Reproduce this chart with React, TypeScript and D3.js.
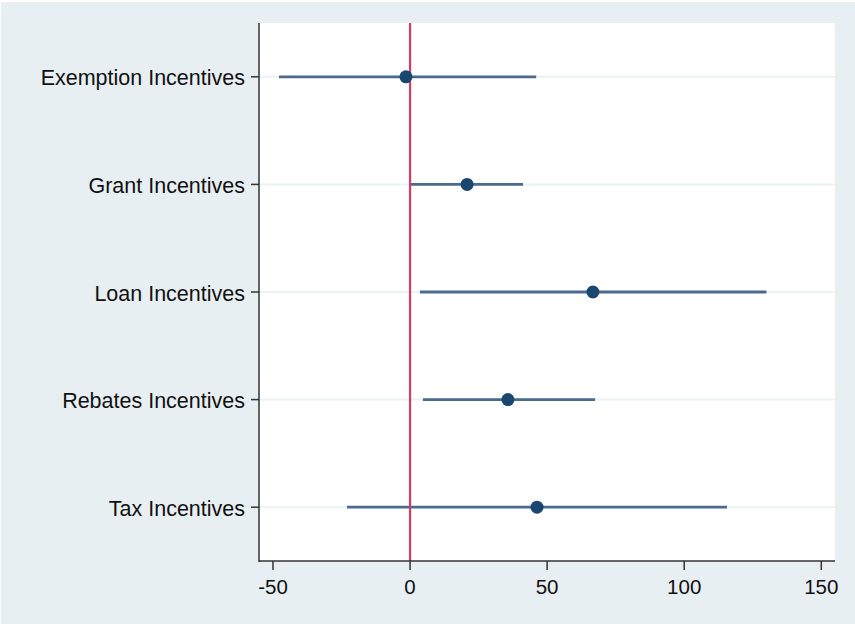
import React from "react";
import * as d3 from "d3";

const categories = ["Exemption Incentives", "Grant Incentives", "Loan Incentives", "Rebates Incentives", "Tax Incentives"];
const estimates = [-1.5, 20.8, 66.7, 35.7, 46.3];
const lowerCI = [-47.8, 0.3, 3.6, 4.7, -23.0];
const upperCI = [46.0, 41.2, 130.0, 67.5, 115.6];
const xTicks = [-50, 0, 50, 100, 150];

const W = 855;
const H = 624;
const plot = { left: 259, right: 835, top: 23, bottom: 561 };

export default function App() {
  const x = d3.scaleLinear().domain([-55.1, 155]).range([plot.left, plot.right]);
  const y = d3.scaleLinear().domain([0.5, 5.5]).range([plot.top, plot.bottom]);
  const font = "'Liberation Sans', Arial, sans-serif";
  return (
    <svg width={W} height={H} style={{ position: "absolute", left: 0, top: 0 }}>
      <rect x={0} y={0} width={W} height={H} fill="#ffffff" />
      <rect x={1} y={2} width={W - 1} height={H - 2} fill="#e8eff2" />
      <rect x={plot.left} y={plot.top} width={plot.right - plot.left} height={plot.bottom - plot.top} fill="#ffffff" />
      {categories.map((c, i) => (
        <line key={"g" + c} x1={plot.left} x2={plot.right} y1={y(i + 1)} y2={y(i + 1)} stroke="#eaf2f3" strokeWidth={2} />
      ))}
      {categories.map((c, i) => (
        <line key={"ci" + c} x1={x(lowerCI[i])} x2={x(upperCI[i])} y1={y(i + 1)} y2={y(i + 1)} stroke="#4b6b8e" strokeWidth={2.8} />
      ))}
      <line x1={x(0)} x2={x(0)} y1={plot.top} y2={plot.bottom} stroke="#d93a62" strokeWidth={2.2} />
      {categories.map((c, i) => (
        <circle key={"p" + c} cx={x(estimates[i])} cy={y(i + 1)} r={6.5} fill="#1a476f" />
      ))}
      {/* axes */}
      <line x1={plot.left} x2={plot.left} y1={plot.top} y2={plot.bottom + 1} stroke="#333333" strokeWidth={1.5} />
      <line x1={plot.left} x2={plot.right} y1={plot.bottom} y2={plot.bottom} stroke="#333333" strokeWidth={1.5} />
      {categories.map((c, i) => (
        <g key={"yt" + c}>
          <line x1={plot.left - 8} x2={plot.left} y1={y(i + 1)} y2={y(i + 1)} stroke="#333333" strokeWidth={1.5} />
          <text x={plot.left - 14} y={y(i + 1) + 1} dy="0.35em" textAnchor="end" fontFamily={font} fontSize={21.5} fill="#111111">
            {c}
          </text>
        </g>
      ))}
      {xTicks.map((t) => (
        <g key={"xt" + t}>
          <line x1={x(t)} x2={x(t)} y1={plot.bottom} y2={plot.bottom + 9} stroke="#333333" strokeWidth={1.5} />
          <text x={x(t)} y={594} textAnchor="middle" fontFamily={font} fontSize={20.5} fill="#111111">
            {t}
          </text>
        </g>
      ))}
    </svg>
  );
}
